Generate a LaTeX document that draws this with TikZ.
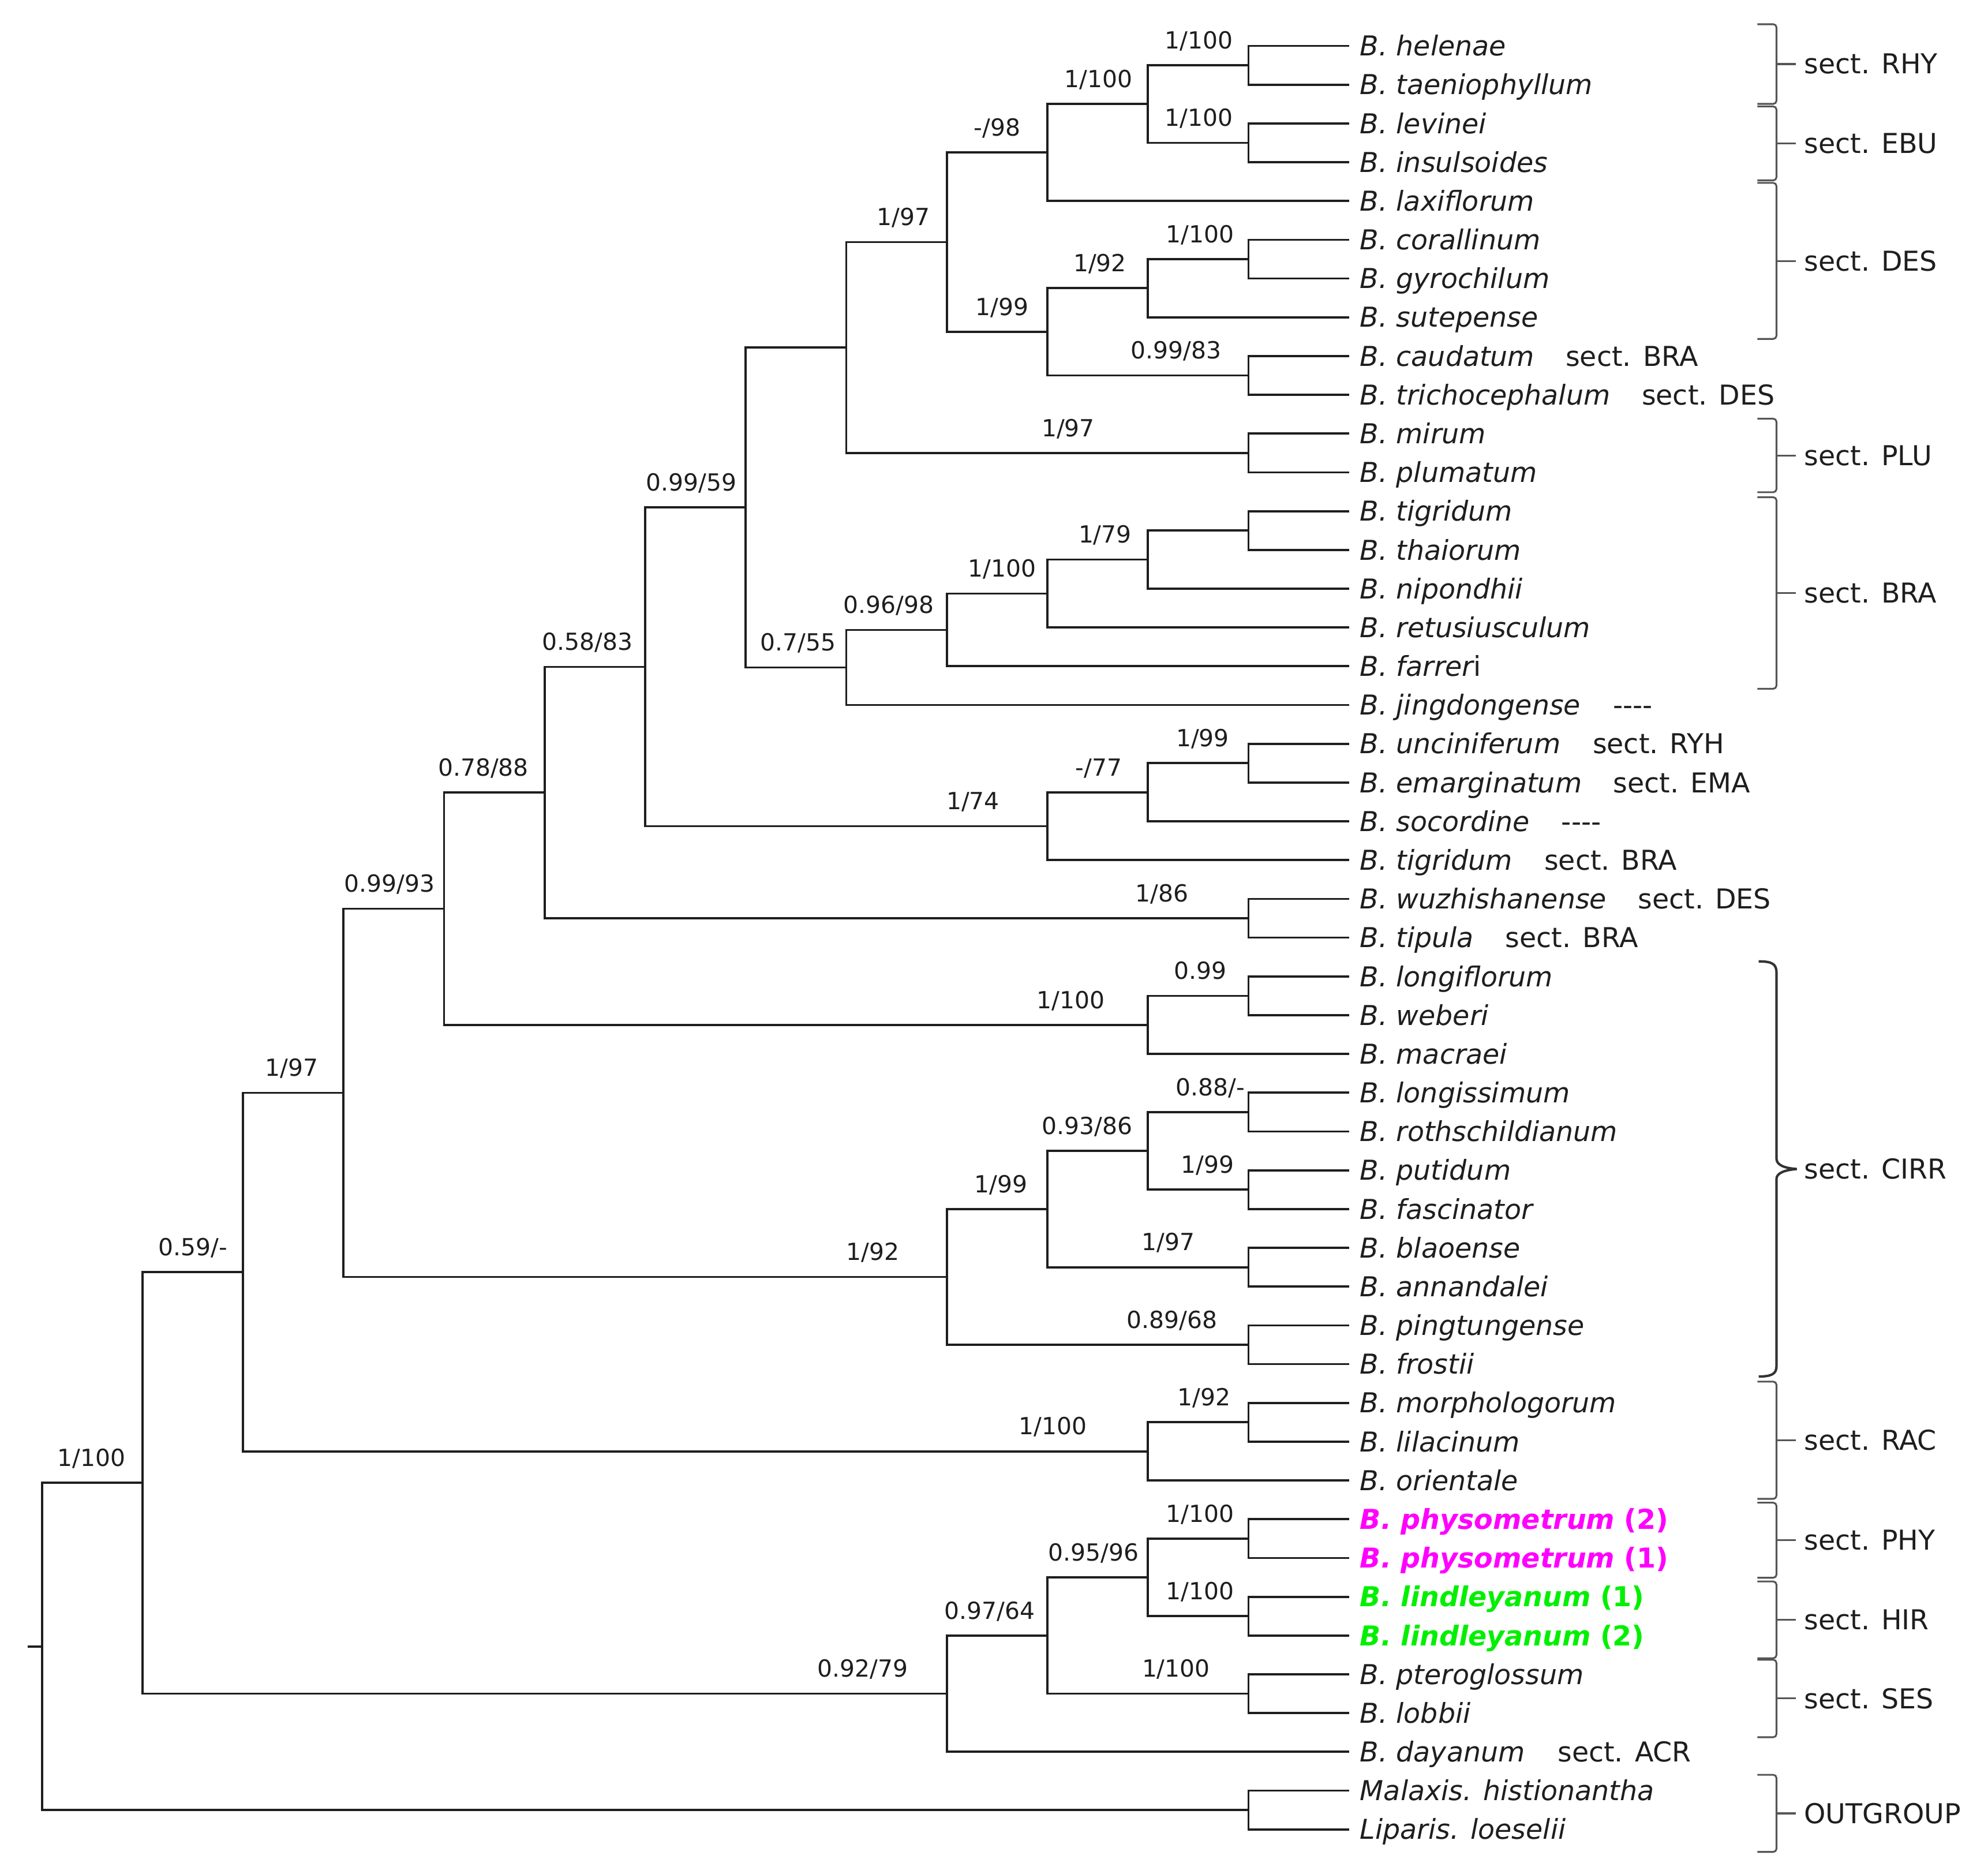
\documentclass[tikz,border=0pt]{standalone}
\usepackage{fontspec}
\setmainfont{DejaVu Sans}[BoldFont={DejaVu Sans Bold},ItalicFont={DejaVu Sans Oblique},BoldItalicFont={DejaVu Sans Bold Oblique}]
\usetikzlibrary{calc}
\definecolor{mag}{RGB}{255,0,255}
\definecolor{grn}{RGB}{0,240,0}
\definecolor{ink}{RGB}{30,30,30}
\definecolor{brk}{RGB}{85,85,85}
\newcommand\secbrk[4]{%
  \pgfmathsetmacro\bmid{(#1+#2)/2}%
  \draw[brack] (1379,#1) -- (1394,#1) -- (1394,#2) -- (1379,#2);
  \draw[brack] (1394,\bmid) -- (1409,\bmid);
  \node[grp] (#4) at (1415.5,\bmid) {#3};}
\newcommand\fourdash{-{}-{}-{}-}
\begin{document}
\begin{tikzpicture}[x=1pt,y=-1pt,
  br/.style={draw=ink, line width=1.7pt},
  leaf/.style={anchor=base west, inner sep=0pt, font=\fontsize{21.5}{24}\selectfont\itshape, text=ink},
  lab/.style={anchor=base, inner sep=0pt, font=\fontsize{18.5}{20}\selectfont, text=ink},
  grp/.style={anchor=west, inner sep=0pt, font=\fontsize{21.5}{24}\selectfont, text=ink},
  brack/.style={draw=brk, line width=1.4pt, rounded corners=2.5pt},
  cirr/.style={draw=black!80, line width=1.9pt},
]
\useasboundingbox (0,0) rectangle (1560,1470);
\fill[white] (0,0) rectangle (1560,1470);

\begin{scope}[shift={(32.9pt,-36pt)}, x=78.9pt, y=-30.42pt]
% leaf ends
\foreach \k in {0,...,46} { \coordinate (e\k) at (13,\k); }
% internal nodes
\coordinate (na) at (12,0.5);
\coordinate (nb) at (12,2.5);
\coordinate (nc) at (11,1.5);
\coordinate (nd) at (10,2.75);
\coordinate (ne) at (12,5.5);
\coordinate (nf) at (11,6.25);
\coordinate (ng) at (12,8.5);
\coordinate (nh) at (10,7.375);
\coordinate (ni) at (9,5.0625);
\coordinate (nj) at (12,10.5);
\coordinate (nk) at (8,7.78125);
\coordinate (nl) at (12,12.5);
\coordinate (nm) at (11,13.25);
\coordinate (nn) at (10,14.125);
\coordinate (no) at (9,15.0625);
\coordinate (np) at (8,16.03125);
\coordinate (nq) at (7,11.90625);
\coordinate (nr) at (12,18.5);
\coordinate (ns) at (11,19.25);
\coordinate (nt) at (10,20.125);
\coordinate (nu) at (6,16.015625);
\coordinate (nv) at (12,22.5);
\coordinate (nw) at (5,19.2578125);
\coordinate (nx) at (12,24.5);
\coordinate (ny) at (11,25.25);
\coordinate (nz) at (4,22.25390625);
\coordinate (ma) at (12,27.5);
\coordinate (mb) at (12,29.5);
\coordinate (mc) at (11,28.5);
\coordinate (md) at (12,31.5);
\coordinate (me) at (10,30);
\coordinate (mf) at (12,33.5);
\coordinate (mg) at (9,31.75);
\coordinate (mh) at (3,27.001953);
\coordinate (mi) at (12,35.5);
\coordinate (mj) at (11,36.25);
\coordinate (mk) at (2,31.625977);
\coordinate (ml) at (12,38.5);
\coordinate (mm) at (12,40.5);
\coordinate (mn) at (11,39.5);
\coordinate (mo) at (12,42.5);
\coordinate (mp) at (10,41);
\coordinate (mq) at (9,42.5);
\coordinate (mr) at (1,37.062988);
\coordinate (ms) at (12,45.5);
\coordinate (rt) at (0,41.281494);
\coordinate (stub) at (-0.143,41.281494);

% connectors
\foreach \p/\c in {na/e0,na/e1,nb/e2,nb/e3,nc/na,nc/nb,nd/nc,nd/e4,
  ne/e5,ne/e6,nf/ne,nf/e7,ng/e8,ng/e9,nh/nf,nh/ng,ni/nd,ni/nh,
  nj/e10,nj/e11,nk/ni,nk/nj,nl/e12,nl/e13,nm/nl,nm/e14,nn/nm,nn/e15,
  no/nn,no/e16,np/no,np/e17,nq/nk,nq/np,nr/e18,nr/e19,ns/nr,ns/e20,
  nt/ns,nt/e21,nu/nq,nu/nt,nv/e22,nv/e23,nw/nu,nw/nv,nx/e24,nx/e25,
  ny/nx,ny/e26,nz/nw,nz/ny,ma/e27,ma/e28,mb/e29,mb/e30,mc/ma,mc/mb,
  md/e31,md/e32,me/mc,me/md,mf/e33,mf/e34,mg/me,mg/mf,mh/nz,mh/mg,
  mi/e35,mi/e36,mj/mi,mj/e37,mk/mh,mk/mj,ml/e38,ml/e39,mm/e40,mm/e41,
  mn/ml,mn/mm,mo/e42,mo/e43,mp/mn,mp/mo,mq/mp,mq/e44,mr/mk,mr/mq,
  ms/e45,ms/e46,rt/mr,rt/ms}
  { \draw[br] (\p) |- (\c); }
\draw[br] (rt) -- (stub);

% leaf names
\newcommand\lf[2]{\node[leaf] (t#1) at ([xshift=8.5pt,yshift=-7.8pt]e#1) {#2};}
\lf{0}{B. helenae}
\lf{1}{B. taeniophyllum}
\lf{2}{B. levinei}
\lf{3}{B. insulsoides}
\lf{4}{B. laxiflorum}
\lf{5}{B. corallinum}
\lf{6}{B. gyrochilum}
\lf{7}{B. sutepense}
\lf{8}{\makebox[161.3pt][l]{B. caudatum}\upshape sect. BRA}
\lf{9}{\makebox[221pt][l]{B. trichocephalum}\upshape sect. DES}
\lf{10}{B. mirum}
\lf{11}{B. plumatum}
\lf{12}{B. tigridum}
\lf{13}{B. thaiorum}
\lf{14}{B. nipondhii}
\lf{15}{B. retusiusculum}
\lf{16}{B. farrer\upshape i}
\lf{17}{\makebox[198.5pt][l]{B. jingdongense}\upshape\fourdash}
\lf{18}{\makebox[182.5pt][l]{B. unciniferum}\upshape sect. RYH}
\lf{19}{\makebox[198.7pt][l]{B. emarginatum}\upshape sect. EMA}
\lf{20}{\makebox[158pt][l]{B. socordine}\upshape\fourdash}
\lf{21}{\makebox[144.5pt][l]{B. tigridum}\upshape sect. BRA}
\lf{22}{\makebox[218pt][l]{B. wuzhishanense}\upshape sect. DES}
\lf{23}{\makebox[114pt][l]{B. tipula}\upshape sect. BRA}
\lf{24}{B. longiflorum}
\lf{25}{B. weberi}
\lf{26}{B. macraei}
\lf{27}{B. longissimum}
\lf{28}{B. rothschildianum}
\lf{29}{B. putidum}
\lf{30}{B. fascinator}
\lf{31}{B. blaoense}
\lf{32}{B. annandalei}
\lf{33}{B. pingtungense}
\lf{34}{B. frostii}
\lf{35}{B. morphologorum}
\lf{36}{B. lilacinum}
\lf{37}{B. orientale}
\lf{38}{\color{mag}\bfseries B. physometrum \upshape (2)}
\lf{39}{\color{mag}\bfseries B. physometrum \upshape (1)}
\lf{40}{\color{grn}\bfseries B. lindleyanum \upshape (1)}
\lf{41}{\color{grn}\bfseries B. lindleyanum \upshape (2)}
\lf{42}{B. pteroglossum}
\lf{43}{B. lobbii}
\lf{44}{\makebox[155pt][l]{B. dayanum}\upshape sect. ACR}
\lf{45}{Malaxis. histionantha}
\lf{46}{Liparis. loeselii}
\end{scope}

% support values
\foreach \nm/\x/\y/\t in {
  bna/940.7/38.2/1\slash 100, bnb/940.7/99.0/1\slash 100, bnc/862.1/68.6/1\slash 100,
  bnd/782.5/106.7/-\slash 98, bne/941.7/190.3/1\slash 100, bnf/863.1/213.1/1\slash 92,
  bng/922.8/281.6/0.99\slash 83, bnh/786.4/247.3/1\slash 99, bni/708.8/177.0/1\slash 97,
  bnj/838.2/342.4/1\slash 97, bnm/867.1/426.1/1\slash 79, bnn/786.4/452.7/1\slash 100,
  bno/697.3/481.2/0.96\slash 98, bnp/626.2/510.7/0.7\slash 55, bnq/542.5/385.2/0.99\slash 59,
  bnr/943.7/585.8/1\slash 99, bns/862.1/608.6/-\slash 77, bnt/763.5/635.2/1\slash 74,
  bnu/460.9/510.2/0.58\slash 83, bnv/911.9/707.5/1\slash 86, bnw/379.3/608.8/0.78\slash 88,
  bnx/941.7/768.3/0.99, bny/840.2/791.1/1\slash 100, bnz/305.6/700.0/0.99\slash 93,
  bma/949.7/859.6/0.88\slash -, bmb/947.7/920.4/1\slash 99, bmc/853.1/890.0/0.93\slash 86,
  bmd/916.9/981.2/1\slash 97, bme/785.4/935.6/1\slash 99, bmf/919.8/1042.1/0.89\slash 68,
  bmg/684.9/988.8/1\slash 92, bmh/229.0/844.4/1\slash 97, bmi/944.7/1102.9/1\slash 92,
  bmj/826.3/1125.7/1\slash 100, bmk/151.3/985.1/0.59\slash -, bml/941.7/1194.2/1\slash 100,
  bmm/941.7/1255.0/1\slash 100, bmn/858.1/1224.6/0.95\slash 96, bmo/922.8/1315.9/1\slash 100,
  bmp/776.5/1270.2/0.97\slash 64, bmq/676.9/1315.9/0.92\slash 79, bmr/71.7/1150.5/1\slash 100}
  { \node[lab] (\nm) at (\x,\y) {\t}; }

% section brackets
\secbrk{19}{81.5}{sect. RHY}{gRHY}
\secbrk{83.5}{141.5}{sect. EBU}{gEBU}
\secbrk{143.5}{265.9}{sect. DES}{gDES}
\secbrk{328.5}{386.2}{sect. PLU}{gPLU}
\secbrk{390.1}{540.4}{sect. BRA}{gBRA}
\secbrk{1084}{1176}{sect. RAC}{gRAC}
\secbrk{1179}{1237.9}{sect. PHY}{gPHY}
\secbrk{1240.8}{1301}{sect. HIR}{gHIR}
\secbrk{1302.2}{1363}{sect. SES}{gSES}
\secbrk{1392.5}{1453}{OUTGROUP}{gOUT}
% CIRR curly brace
\draw[cirr] (1380,754.3) .. controls (1390,754.3) and (1394,756) .. (1394,763)
  -- (1394,909) .. controls (1394,914) and (1400,916.5) .. (1410,917.2)
  .. controls (1400,918) and (1394,920.5) .. (1394,925)
  -- (1394,1072) .. controls (1394,1078) and (1390,1080) .. (1380,1080);
\node[grp] (gCIRR) at (1415.5,917.2) {sect. CIRR};
\end{tikzpicture}
\end{document}
